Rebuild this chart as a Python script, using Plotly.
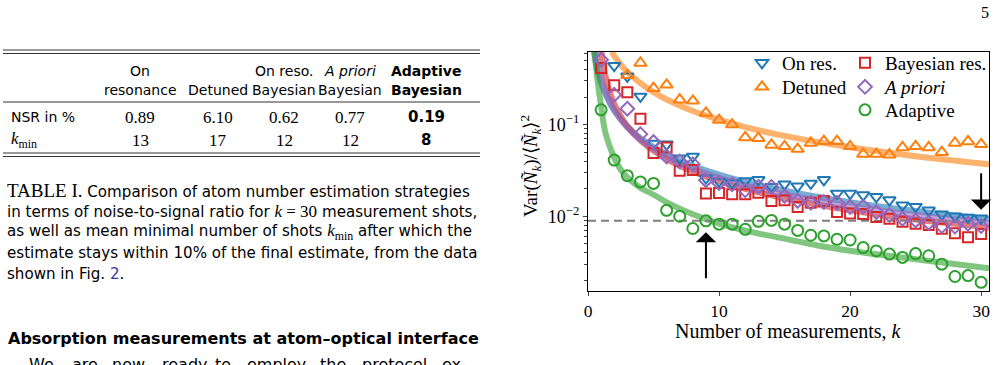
import numpy as np
import plotly.graph_objects as go

# ---------------- data ----------------
k_all = list(range(1, 31))

k_on_res = list(range(2, 31))
var_on_res = [0.44, 0.336, 0.203, 0.062, 0.061, 0.043, 0.045, 0.026, 0.024, 0.023, 0.0243, 0.025,
              0.021, 0.0224, 0.0212, 0.0228, 0.025, 0.0177, 0.0177, 0.017, 0.0163, 0.015, 0.0132,
              0.0127, 0.0116, 0.0105, 0.0100, 0.0097, 0.0095]

k_detuned = list(range(3, 31))
var_detuned = [0.345, 0.47, 0.25, 0.272, 0.187, 0.182, 0.134, 0.112, 0.10, 0.0724, 0.071, 0.060,
               0.058, 0.054, 0.063, 0.066, 0.066, 0.058, 0.0477, 0.0477, 0.047, 0.0564, 0.058,
               0.0564, 0.050, 0.063, 0.0655, 0.061]

var_bayes = [0.414, 0.268, 0.226, 0.116, 0.0489, 0.0564, 0.0313, 0.032, 0.0177, 0.0179, 0.0174,
             0.0174, 0.018, 0.0147, 0.0149, 0.0126, 0.014, 0.0147, 0.0111, 0.0107, 0.0106, 0.0098,
             0.0094, 0.0087, 0.0083, 0.0080, 0.0073, 0.0065, 0.0059, 0.0064]

var_apriori = [0.51, 0.212, 0.149, 0.0787, 0.0644, 0.0449, 0.0396, 0.037, 0.0247, 0.0231, 0.0224,
               0.0192, 0.021, 0.0209, 0.0166, 0.0147, 0.0140, 0.0143, 0.0140, 0.0126, 0.0127,
               0.0111, 0.0103, 0.0094, 0.0090, 0.0085, 0.0078, 0.0077, 0.0083, 0.0078]

var_adaptive = [0.145, 0.041, 0.0277, 0.0237, 0.0228, 0.0116, 0.0100, 0.00735, 0.0089, 0.0082,
                0.0082, 0.0072, 0.0088, 0.0090, 0.0082, 0.0070, 0.0062, 0.0061, 0.0056, 0.0055,
                0.00455, 0.00418, 0.00386, 0.00355, 0.00391, 0.0037, 0.0030, 0.0022, 0.00225, 0.0019]

# fitted curves
kc_on_res = [0.46, 0.6, 0.8, 1, 1.5, 2, 3, 4, 5, 6, 8, 10, 12, 15, 20, 25, 30, 30.6]
fit_on_res = [0.62, 0.475, 0.356, 0.285, 0.19, 0.1425, 0.095, 0.071, 0.057, 0.0475, 0.0356,
              0.0285, 0.0238, 0.019, 0.01425, 0.0114, 0.0095, 0.0093]
kc_detuned = [1.8, 2, 2.5, 3, 4, 5, 6, 8, 10, 12, 15, 20, 25, 30, 30.6]
fit_detuned = [0.62, 0.565, 0.45, 0.377, 0.283, 0.226, 0.188, 0.141, 0.113, 0.094, 0.0753,
               0.0565, 0.0452, 0.0377, 0.0369]
kc_bayes = [1.03, 1.2, 1.5, 2, 2.5, 3, 4, 5, 6, 8, 10, 12, 15, 20, 25, 30, 30.6]
fit_bayes = [0.62, 0.42, 0.27, 0.168, 0.123, 0.096, 0.0675, 0.052, 0.042, 0.0307, 0.0241, 0.0199,
             0.0157, 0.0116, 0.0092, 0.0077, 0.0075]
kc_apriori = [0.6, 0.8, 1, 1.5, 2, 3, 4, 5, 6, 8, 10, 12, 15, 20, 25, 30, 30.6]
fit_apriori = [0.62, 0.42, 0.32, 0.2, 0.145, 0.093, 0.068, 0.054, 0.0445, 0.033, 0.0262, 0.0217,
               0.0173, 0.0129, 0.0103, 0.0086, 0.0084]
kc_adaptive = [0.5, 0.7, 0.9, 1.0, 1.3, 1.8, 2.2, 2.7, 4, 5, 6, 7, 8, 9, 10, 12.5, 15, 17.5, 20,
               25, 30.6]
fit_adaptive = [0.62, 0.33, 0.2, 0.16, 0.085, 0.051, 0.038, 0.0295, 0.0205, 0.0172, 0.0142,
                0.0121, 0.0105, 0.0093, 0.0083, 0.0067, 0.0057, 0.0048, 0.0042, 0.0034, 0.0027]

# table
table_cols_1 = ["On", "Detuned", "On reso.", "<i>A priori</i>", "<b>Adaptive</b>"]
table_cols_2 = ["resonance", "", "Bayesian", "Bayesian", "<b>Bayesian</b>"]
nsr_percent = [0.89, 6.10, 0.62, 0.77, 0.19]
k_min = [13, 17, 12, 12, 8]

x_ticks = [0, 10, 20, 30]
y_ticks = [0.01, 0.1]
y_ticktext = ["10<sup>\u22122</sup>", "10<sup>\u22121</sup>"]

# ---------------- style ----------------
C_BLUE, C_ORANGE, C_GREEN, C_RED, C_PURPLE = "#1f77b4", "#ff7f0e", "#2ca02c", "#d62728", "#9467bd"
SERIF = "Liberation Serif"
SANS = "DejaVu Sans"

W, H = 998, 365
L, R, T, B = 588, 989, 52, 291


def px(x):
    return (x - L) / (R - L)


def py(y):
    return (B - y) / (B - T)


fig = go.Figure()

# curves
for kc, fc, col in [(kc_on_res, fit_on_res, C_BLUE), (kc_detuned, fit_detuned, C_ORANGE),
                    (kc_bayes, fit_bayes, C_RED), (kc_apriori, fit_apriori, C_PURPLE),
                    (kc_adaptive, fit_adaptive, C_GREEN)]:
    fig.add_trace(go.Scatter(x=kc, y=fc, mode="lines", line=dict(color=col, width=6, shape="spline"),
                             opacity=0.6, showlegend=False, hoverinfo="skip"))

# dashed reference line at the on-resonance NSR
ref = nsr_percent[0] / 100
fig.add_trace(go.Scatter(x=[0, 30.6], y=[ref, ref], mode="lines",
                         line=dict(color="#7f7f7f", width=2, dash="8px,5px"),
                         showlegend=False, hoverinfo="skip"))

COL1_W, COL2_W = 58, 110
fig.add_trace(go.Scatter(x=k_on_res, y=var_on_res, mode="markers", name="On res.",
                         marker=dict(symbol="triangle-down-open", size=11, color=C_BLUE,
                                     line=dict(width=2, color=C_BLUE)),
                         legend="legend", legendwidth=COL1_W))
fig.add_trace(go.Scatter(x=k_detuned, y=var_detuned, mode="markers", name="Detuned",
                         marker=dict(symbol="triangle-up-open", size=11, color=C_ORANGE,
                                     line=dict(width=2, color=C_ORANGE)),
                         legend="legend2", legendwidth=COL1_W))
fig.add_trace(go.Scatter(x=k_all, y=var_bayes, mode="markers", name="Bayesian res.",
                         marker=dict(symbol="square-open", size=10, color=C_RED,
                                     line=dict(width=2, color=C_RED)),
                         legend="legend", legendwidth=COL2_W))
fig.add_trace(go.Scatter(x=k_all, y=var_apriori, mode="markers", name="<i>A priori</i>",
                         marker=dict(symbol="diamond-open", size=10.5, color=C_PURPLE,
                                     line=dict(width=2, color=C_PURPLE)),
                         legend="legend2", legendwidth=COL2_W))
fig.add_trace(go.Scatter(x=k_all, y=var_adaptive, mode="markers", name="Adaptive",
                         marker=dict(symbol="circle-open", size=11, color=C_GREEN,
                                     line=dict(width=2, color=C_GREEN)),
                         legend="legend3", legendwidth=COL2_W))

# arrows
fig.add_annotation(x=9, y=np.log10(0.0067), ax=9, ay=np.log10(0.00203), xref="x", yref="y",
                   axref="x", ayref="y", text="", showarrow=True, arrowhead=1, arrowsize=1.7,
                   arrowwidth=2, arrowcolor="black")
fig.add_annotation(x=30, y=np.log10(0.0118), ax=30, ay=np.log10(0.0305), xref="x", yref="y",
                   axref="x", ayref="y", text="", showarrow=True, arrowhead=1, arrowsize=1.7,
                   arrowwidth=2, arrowcolor="black")

ann = []


def text(x, y, s, size=14, family=SANS, xanchor="left", color="black", angle=0):
    ann.append(dict(x=px(x), y=py(y), xref="paper", yref="paper", text=s, showarrow=False,
                    xanchor=xanchor, yanchor="middle", textangle=angle,
                    font=dict(size=size, family=family, color=color)))


# axis titles
text(530, 166, "Var(<i>Ñ</i><sub><i>k</i></sub>)/\u27e8<i>Ñ</i><sub><i>k</i></sub>\u27e9<sup>2</sup>",
     size=19, family=SERIF, xanchor="center", angle=-90)
text(788.5, 331, "Number of measurements, <i>k</i>", size=20, family=SERIF, xanchor="center")

# page number
text(985, 13, "5", size=16, family=SERIF, xanchor="center")

# table
col_x = [140, 218, 284, 350, 426]
TS = 14
for cx, h1, h2 in zip(col_x, table_cols_1, table_cols_2):
    if h2:
        text(cx, 71, h1, size=TS, xanchor="center")
        text(cx, 90, h2, size=TS, xanchor="center")
    else:
        text(cx, 90, h1, size=TS, xanchor="center")
text(9, 117, "NSR in %", size=TS)
text(9, 140, "<i>k</i><sub>min</sub>", size=17, family=SERIF)
for i, (cx, v, km) in enumerate(zip(col_x, nsr_percent, k_min)):
    if i == len(col_x) - 1:
        text(cx, 117, f"<b>{v:.2f}</b>", size=15, xanchor="center")
        text(cx, 140, f"<b>{km}</b>", size=15, xanchor="center")
    else:
        text(cx, 117, f"{v:.2f}", size=17, family=SERIF, xanchor="center")
        text(cx, 140, f"{km}", size=17, family=SERIF, xanchor="center")

shapes = []
for yy in [50, 53.5, 102, 153, 156.5]:
    shapes.append(dict(type="line", xref="paper", yref="paper", x0=px(3), x1=px(480),
                       y0=py(yy), y1=py(yy), line=dict(color="#333", width=1)))

# caption
CS = 15.1
cap = [
    "<span style='font-family:Liberation Serif;font-size:19px'>TABLE I.</span> Comparison of atom number estimation strategies",
    "in terms of noise-to-signal ratio for <span style='font-family:Liberation Serif;font-size:17px'><i>k</i> = 30</span> measurement shots,",
    "as well as mean minimal number of shots <span style='font-family:Liberation Serif;font-size:17px'><i>k</i><sub>min</sub></span> after which the",
    "estimate stays within 10% of the final estimate, from the data",
    "shown in Fig. <span style='color:#3333aa'>2</span>.",
]
for i, s in enumerate(cap):
    text(5, 190 + 21 * i, s, size=CS)

text(6, 338, "<b>Absorption measurements at atom\u2013optical interface</b>", size=16)
words = ["We", "are", "now", "ready", "to", "employ", "the", "protocol", "ex-"]
word_x = [27, 70, 110, 160, 213, 245, 318, 360, 440]
for wx, w in zip(word_x, words):
    text(wx, 364, w, size=16)

LEG = dict(xanchor="left", yanchor="top", bgcolor="rgba(0,0,0,0)", orientation="h",
           font=dict(family=SERIF, size=19), itemwidth=30)
fig.update_layout(
    width=W, height=H,
    margin=dict(l=L, r=W - R, t=T, b=H - B, autoexpand=False),
    paper_bgcolor="white", plot_bgcolor="white",
    font=dict(family=SERIF, size=16, color="black"),
    annotations=fig.layout.annotations + tuple(ann),
    shapes=shapes,
    legend=dict(x=px(742), y=py(44), **LEG),
    legend2=dict(x=px(742), y=py(68), **LEG),
    legend3=dict(x=px(845), y=py(91), **LEG),
)
fig.update_xaxes(range=[0, 30.6], tickvals=x_ticks, ticks="outside", ticklen=4, tickwidth=1.2,
                 showline=True, linecolor="black", linewidth=1.3, mirror=True, showgrid=False,
                 zeroline=False, tickfont=dict(family=SERIF, size=17.5))
minor_vals = [m * 10.0 ** e for e in (-3, -2, -1) for m in range(2, 10)]
fig.update_yaxes(type="log", range=[-2.816, -0.2077], tickvals=y_ticks, ticktext=y_ticktext,
                 ticks="outside", ticklen=4, tickwidth=1.2,
                 minor=dict(tickvals=minor_vals, ticks="outside", ticklen=2.5, tickwidth=1,
                            showgrid=False),
                 showline=True, linecolor="black", linewidth=1.3, mirror=True, showgrid=False,
                 zeroline=False, tickfont=dict(family=SERIF, size=18))

fig.write_html("out.html")
